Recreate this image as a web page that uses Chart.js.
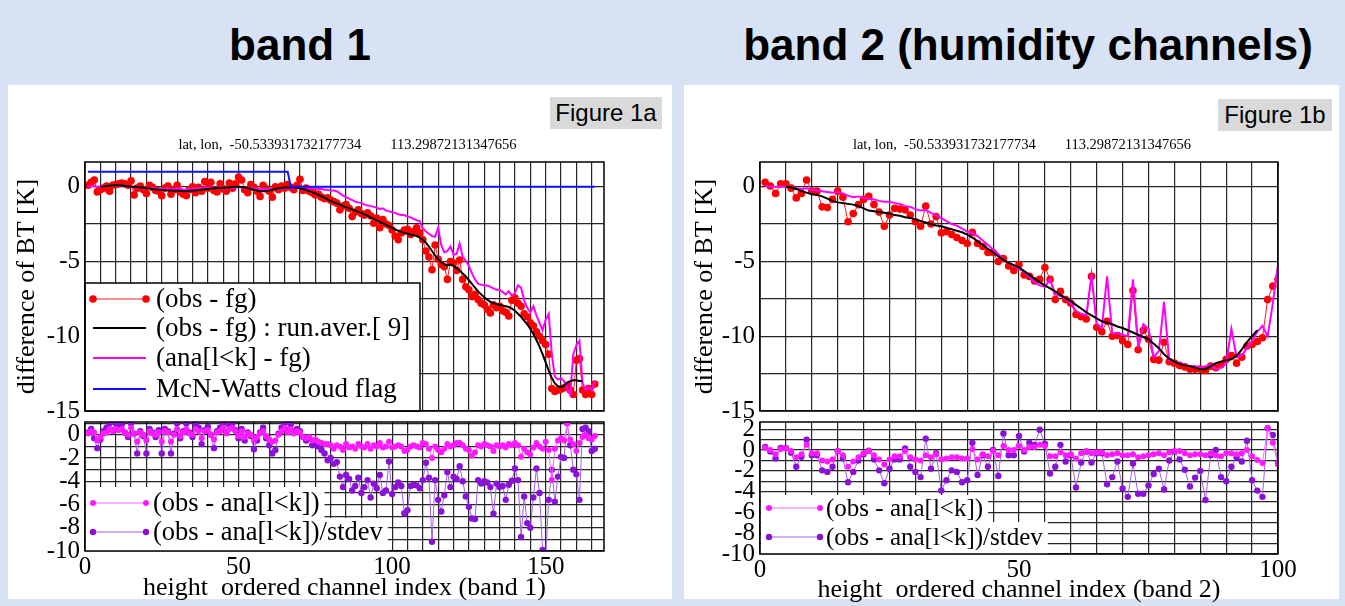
<!DOCTYPE html>
<html>
<head>
<meta charset="utf-8">
<script src="https://cdn.jsdelivr.net/npm/chart.js@4.4.1/dist/chart.umd.min.js"></script>
<style>
body { margin: 0; width: 1345px; height: 606px; background: #d7e3f4; position: relative; overflow: hidden; font-family: "Liberation Sans", Arial, sans-serif; }
.panel { position: absolute; background: #fff; }
.head { position: absolute; top: 20px; font-weight: bold; font-size: 44px; line-height: 50px; text-align: center; color: #000; }
.fig { position: absolute; background: #d9d9d9; font-size: 24px; line-height: 32px; height: 32px; text-align: center; color: #000; }
canvas { position: absolute; }
</style>
</head>
<body>
<div class="panel" style="left:8px;top:85px;width:664px;height:514px"></div>
<div class="panel" style="left:684px;top:85px;width:655px;height:514px"></div>
<div class="head" style="left:100px;width:400px">band 1</div>
<div class="head" style="left:718px;width:620px">band 2 (humidity channels)</div>
<div class="fig" style="left:550px;top:97px;width:112px">Figure 1a</div>
<div class="fig" style="left:1218px;top:99px;width:114px">Figure 1b</div>
<canvas id="top1"></canvas>
<canvas id="bot1"></canvas>
<canvas id="top2"></canvas>
<canvas id="bot2"></canvas>
<script>
// band 1 : height ordered channels 1..166
const channels1 = Array.from({length: 166}, (_, i) => i + 1);
const runChannels1 = channels1.slice(4, 162);
const obsFg1 = [
  0.1, 0.3, 0.45, -0.35, -0.2, -0.1, 0.05, -0.3, 0.1, 0.15,
  0.2, 0.25, 0.2, 0.1, 0.4, -0.55, -0.1, 0.05, -0.2, -0.45,
  0.1, -0.05, -0.25, -0.3, -0.6, -0.1, 0.05, -0.5, -0.2, 0.1,
  -0.35, -0.5, -0.6, -0.2, 0.0, -0.4, -0.05, -0.3, 0.35, -0.1,
  0.3, -0.25, -0.35, 0.2, -0.15, -0.3, 0.25, -0.1, 0.2, 0.65,
  0.45, -0.2, -0.4, 0.15, -0.05, -0.3, -0.65, 0.1, -0.15, -0.3,
  -0.7, 0.0, -0.2, 0.05, -0.1, 0.15, -0.05, -0.2, 0.1, 0.5,
  -0.25, -0.1, -0.3, -0.4, -0.55, -0.5, -0.7, -0.8, -0.75, -0.9,
  -1.0, -1.1, -1.55, -1.3, -1.2, -1.45, -2.0, -1.7, -1.55, -1.8,
  -1.9, -1.75, -1.95, -2.45, -2.1, -2.75, -2.2, -2.5, -2.6, -2.9,
  -3.3, -3.55, -3.1, -2.9, -2.85, -3.2, -3.0, -2.75, -3.1, -3.55,
  -4.3, -4.7, -5.55, -3.9, -4.85, -5.2, -5.35, -6.2, -5.0, -5.1,
  -5.6, -4.9, -6.2, -6.7, -6.9, -7.35, -7.2, -7.55, -7.8, -7.9,
  -8.2, -8.45, -7.9, -8.1, -8.0, -8.3, -8.4, -8.65, -7.6, -7.45,
  -7.8, -8.0, -8.5, -8.7, -9.1, -9.3, -9.7, -10.0, -10.3, -10.55,
  -11.2, -13.5, -13.7, -13.6, -13.55, -13.45, -13.3, -13.6, -13.9, -11.6,
  -11.5, -13.6, -13.9, -13.5, -13.9, -13.2
];
// 9 channel running average, channels 5..162
const runAver1 = [
  0.0, 0.02, 0.05, 0.08, 0.1, 0.12, 0.1, 0.08, 0.05, 0.03,
  0.0, 0.0, -0.02, -0.05, -0.05, -0.1, -0.12, -0.15, -0.18, -0.2,
  -0.22, -0.22, -0.25, -0.25, -0.27, -0.28, -0.28, -0.3, -0.3, -0.28,
  -0.26, -0.25, -0.22, -0.2, -0.18, -0.15, -0.12, -0.1, -0.1, -0.1,
  -0.08, -0.05, -0.05, -0.02, 0.0, 0.0, -0.02, -0.05, -0.1, -0.15,
  -0.2, -0.25, -0.3, -0.3, -0.28, -0.25, -0.2, -0.15, -0.1, -0.08,
  -0.05, -0.05, -0.05, -0.05, -0.08, -0.1, -0.15, -0.22, -0.3, -0.38,
  -0.45, -0.55, -0.65, -0.75, -0.85, -0.95, -1.05, -1.12, -1.2, -1.3,
  -1.38, -1.45, -1.52, -1.6, -1.68, -1.75, -1.85, -1.95, -2.05, -2.15,
  -2.25, -2.35, -2.45, -2.55, -2.65, -2.75, -2.85, -2.95, -3.02, -3.1,
  -3.15, -3.2, -3.25, -3.3, -3.4, -3.55, -3.75, -4.0, -4.3, -4.6,
  -4.85, -5.05, -5.2, -5.25, -5.2, -5.3, -5.45, -5.6, -5.8, -6.0,
  -6.25, -6.5, -6.75, -7.0, -7.2, -7.4, -7.55, -7.7, -7.8, -7.85,
  -7.9, -7.95, -8.0, -8.05, -8.15, -8.3, -8.5, -8.7, -8.95, -9.2,
  -9.5, -9.85, -10.25, -10.7, -11.2, -11.75, -12.3, -12.8, -13.15, -13.35,
  -13.4, -13.3, -13.1, -13.0, -12.95, -12.95, -13.0, -13.0
];
const anaFg1 = [
  0.0, 0.05, 0.05, 0.0, 0.0, 0.05, 0.05, 0.1, 0.1, 0.1,
  0.1, 0.1, 0.05, 0.05, 0.0, -0.05, -0.05, -0.05, -0.1, -0.1,
  -0.1, -0.1, -0.1, -0.15, -0.15, -0.15, -0.1, -0.15, -0.15, -0.1,
  -0.15, -0.2, -0.2, -0.15, -0.1, -0.15, -0.1, -0.1, -0.05, -0.1,
  -0.05, -0.1, -0.15, -0.1, -0.1, -0.1, -0.05, -0.1, -0.05, 0.0,
  -0.05, -0.1, -0.15, -0.1, -0.1, -0.15, -0.2, -0.15, -0.15, -0.15,
  -0.2, -0.15, -0.15, -0.1, -0.1, -0.1, -0.1, -0.1, -0.05, 0.0,
  -0.05, -0.05, -0.1, -0.1, -0.1, -0.15, -0.15, -0.2, -0.2, -0.25,
  -0.25, -0.3, -0.45, -0.6, -0.7, -0.8, -0.9, -1.0, -1.05, -1.1,
  -1.2, -1.25, -1.3, -1.35, -1.4, -1.5, -1.45, -1.6, -1.65, -1.7,
  -1.75, -1.85, -1.9, -1.9, -2.0, -2.05, -2.15, -2.25, -2.3, -2.8,
  -3.0, -3.15, -3.3, -3.35, -2.75, -3.9, -4.4, -4.3, -4.0, -4.55,
  -4.5, -3.8, -4.7, -4.95, -5.3, -5.8, -6.2, -6.5, -6.55, -6.6,
  -6.6, -6.7, -6.8, -6.9, -6.9, -7.05, -7.2, -7.0, -7.3, -7.1,
  -6.6, -6.75, -7.6, -8.1, -8.4, -8.0, -8.6, -9.1, -9.6, -8.9,
  -8.5, -11.2, -12.7, -12.9, -12.8, -13.0, -13.5, -13.9, -11.2, -10.6,
  -10.3, -13.1, -13.6, -13.4, -13.6, -13.0
];
const cloudFlagX1 = [1, 66, 67, 166];
const cloudFlag1 = [1, 1, 0, 0];
const obsAna1 = [
  0.1, 0.3, 0.2, -0.5, -0.2, 0.1, 0.2, 0.5, 0.3, 0.5,
  0.4, 0.5, 0.2, 0.0, 0.6, 0.1, -0.6, 0.2, 0.0, -0.5,
  0.3, 0.1, 0.0, 0.2, -0.6, 0.3, 0.2, -0.6, 0.0, 0.5,
  -0.1, 0.2, 0.5, 0.1, 0.0, 0.5, 0.3, -0.3, 0.3, 0.4,
  0.0, -0.4, 0.2, 0.3, 0.6, 0.1, 0.5, 0.6, 0.3, -0.1,
  0.3, -0.2, 0.1, 0.0, -0.5, -0.2, 0.1, 0.3, -0.1, -0.4,
  -0.6, -0.5, 0.0, 0.3, 0.6, 0.2, 0.5, 0.1, 0.3, 0.2,
  -0.2, -0.3, -0.2, -0.5, -0.4, -0.6, -0.7, -0.8, -0.8, -0.9,
  -1.2, -0.9, -1.0, -1.3, -0.8, -1.1, -1.0, -1.2, -0.8, -1.0,
  -1.1, -0.8, -1.2, -0.9, -1.0, -0.7, -1.1, -1.0, -0.6, -1.1,
  -1.0, -0.9, -1.0, -1.4, -1.3, -1.0, -0.9, -1.0, -1.1, -0.7,
  -0.8, -1.2, -2.0, -1.0, -1.3, -1.5, -1.2, -0.8, -1.0, -0.9,
  -0.7, -0.7, -0.9, -1.2, -1.3, -1.8, -1.5, -0.9, -1.0, -0.8,
  -0.9, -1.0, -1.4, -0.9, -1.0, -0.9, -1.1, -0.8, -0.9, -0.7,
  -0.9, -1.9, -1.2, -1.5, -1.7, -1.1, -0.7, -1.0, -1.2, -0.6,
  -1.3, -3.9, -1.2, -0.5, -0.3, -0.5, 1.0, -0.4, -0.8, -1.4,
  -0.7, -0.2, 0.0, -0.3, -0.4, -0.1
];
const obsAnaStd1 = [
  0.2, 0.5, -0.3, -1.15, -0.4, 0.3, 0.6, 1.0, 0.4, 1.0,
  0.6, 0.9, 0.2, -0.2, 1.0, 0.1, -1.6, 0.3, -0.1, -1.6,
  0.5, 0.2, -0.2, 0.4, -1.6, 0.5, 0.3, -1.6, 0.1, 1.0,
  -0.3, 0.3, 1.0, 0.2, -0.2, 0.9, 0.6, -0.8, 0.4, 0.7,
  0.0, -1.15, 0.3, 0.6, 1.0, 0.2, 0.8, 1.0, 0.4, -0.3,
  0.5, -0.5, 0.2, -0.1, -1.25, -0.5, 0.2, 0.6, -0.3, -0.9,
  -1.6, -1.3, 0.1, 0.6, 1.0, 0.4, 0.9, 0.2, 0.5, 0.3,
  -0.2, -0.5, -0.3, -0.9, -0.6, -1.0, -1.3, -1.6, -2.2, -2.0,
  -2.5, -2.35, -3.6, -4.5, -3.45, -3.8, -4.8, -4.4, -3.7, -5.0,
  -4.5, -3.9, -5.4, -4.2, -4.6, -3.45, -5.0, -4.8, -2.3, -5.1,
  -4.5, -4.1, -4.4, -6.75, -6.5, -4.4, -4.3, -4.35, -4.6, -3.9,
  -2.4, -3.7, -9.2, -3.9, -5.6, -6.6, -5.2, -3.2, -4.5, -3.6,
  -3.8, -2.7, -4.0, -5.3, -6.2, -7.2, -7.25, -3.9, -4.2, -4.0,
  -4.1, -4.5, -6.8, -4.2, -4.5, -4.4, -5.6, -4.3, -3.95, -2.9,
  -3.9, -8.8, -5.3, -7.6, -8.0, -5.4, -2.9, -5.0, -9.9, -10.5,
  -5.6, -3.0, -5.75, -3.6, -1.9, -2.0, 1.0, -0.9, -3.0, -3.4,
  -5.6, 0.5, 0.6, 0.3, -1.4, -1.2
];

// band 2 : height ordered channels 1..100
const channels2 = Array.from({length: 100}, (_, i) => i + 1);
const runChannels2 = channels2.slice(4, 96);
const obsFg2 = [
  0.3, 0.05, -0.45, 0.2, 0.2, -0.1, -0.75, -0.45, 0.45, -0.3,
  -0.3, -1.35, -1.4, -0.85, -0.3, -0.7, -2.35, -1.8, -1.2, -0.85,
  -0.65, -1.2, -1.7, -2.65, -1.9, -1.45, -1.5, -1.55, -1.9, -2.35,
  -2.65, -1.3, -2.5, -2.0, -3.1, -3.0, -3.2, -3.4, -3.6, -3.8,
  -3.05, -3.8, -4.0, -4.4, -4.4, -5.0, -4.8, -5.3, -5.6, -5.2,
  -5.9, -6.0, -6.3, -6.2, -5.4, -6.2, -7.55, -7.0, -7.55, -7.8,
  -8.55, -8.7, -8.85, -6.0, -9.4, -9.7, -9.0, -10.0, -9.95, -10.3,
  -10.55, -6.95, -10.9, -9.6, -10.2, -11.55, -11.6, -10.4, -11.7, -11.8,
  -11.95, -12.05, -12.2, -12.2, -12.2, -12.3, -12.0, -12.1, -11.9, -11.55,
  -11.3, -11.8, -11.4, -10.65, -10.55, -10.35, -10.1, -7.55, -6.65, -6.2
];
// 9 channel running average, channels 5..96
const runAver2 = [
  0.0, -0.05, -0.15, -0.3, -0.4, -0.5, -0.55, -0.65, -0.8, -0.95,
  -1.05, -1.1, -1.15, -1.2, -1.3, -1.45, -1.6, -1.65, -1.7, -1.75,
  -1.8, -1.9, -1.95, -2.05, -2.1, -2.2, -2.3, -2.4, -2.5, -2.6,
  -2.65, -2.75, -2.85, -2.95, -3.05, -3.2, -3.4, -3.65, -3.9, -4.15,
  -4.4, -4.65, -4.9, -5.1, -5.25, -5.4, -5.65, -5.9, -6.15, -6.4,
  -6.6, -6.8, -7.0, -7.25, -7.45, -7.65, -7.9, -8.15, -8.4, -8.6,
  -8.8, -9.0, -9.1, -9.2, -9.35, -9.45, -9.6, -9.75, -9.9, -10.05,
  -10.2, -10.5, -10.8, -11.2, -11.5, -11.7, -11.85, -11.95, -12.0, -12.1,
  -12.2, -12.2, -12.0, -11.8, -11.7, -11.6, -11.55, -11.3, -10.9, -10.4,
  -10.0, -9.6
];
const anaFg2 = [
  0.05, 0.0, 0.0, 0.0, 0.0, -0.05, -0.1, -0.15, -0.1, -0.2,
  -0.25, -0.3, -0.35, -0.4, -0.35, -0.45, -0.6, -0.7, -0.65, -0.75,
  -0.8, -0.85, -0.95, -1.0, -1.0, -1.1, -1.15, -1.3, -1.35, -1.5,
  -1.6, -1.55, -1.75, -1.9, -2.1, -2.3, -2.5, -2.6, -2.8, -3.0,
  -3.1, -3.3, -3.6, -3.9, -4.2, -4.5, -4.9, -5.1, -5.3, -5.5,
  -5.7, -6.0, -6.4, -6.6, -6.7, -6.2, -7.2, -7.3, -7.5, -7.8,
  -8.3, -8.5, -8.6, -5.9, -9.2, -9.4, -6.0, -9.8, -9.8, -9.9,
  -10.0, -6.2, -10.6, -9.2, -9.5, -11.4, -11.0, -7.7, -11.6, -11.7,
  -11.8, -11.9, -12.0, -12.0, -12.1, -12.0, -11.9, -12.2, -12.1, -11.8,
  -9.5, -11.4, -11.3, -10.8, -10.3, -9.7, -9.3, -10.0, -7.8, -5.2
];
const obsAna2 = [
  0.2, 0.0, -0.4, 0.1, 0.2, -0.1, -0.7, -0.4, 0.5, -0.3,
  -0.3, -1.0, -1.1, -0.9, -0.1, -0.5, -1.6, -1.1, -0.7, -0.3,
  -0.1, -0.5, -0.9, -1.4, -0.9, -0.6, -0.6, -0.1, -0.7, -0.9,
  -1.0, -0.5, -0.7, -0.4, -0.9, -0.8, -0.7, -0.7, -0.8, -0.8,
  0.1, -0.9, -0.4, -0.6, -0.1, -0.5, 0.4, 0.0, 0.0, 0.4,
  0.0, 0.3, 0.3, 0.5, 0.4, -0.6, -0.6, -0.2, -0.5, -0.4,
  -0.8, -0.3, -0.1, -0.3, -0.2, -0.2, -0.5, -0.4, -0.3, -0.5,
  -0.5, -0.4, -0.7, -0.6, -0.5, -0.4, -0.3, -0.5, -0.2, -0.1,
  -0.1, -0.3, -0.5, -0.4, -0.4, -0.5, -0.3, -0.5, -0.6, -0.3,
  -0.3, -0.4, -0.3, 0.0, -0.6, -0.95, -1.25, 2.1, 0.7, -1.4
];
const obsAnaStd2 = [
  0.3, -0.15, -0.8, 0.2, 0.2, -0.25, -1.6, -0.65, 1.0, -0.5,
  -0.5, -1.95, -2.1, -1.6, -0.1, -0.8, -3.1, -2.1, -1.0, -0.4,
  -0.05, -0.9, -1.95, -3.2, -1.8, -0.9, -0.9, 0.15, -1.6, -2.1,
  -2.6, 1.1, -1.8, -0.3, -3.9, -2.9, -1.95, -2.1, -3.1, -2.9,
  0.7, -2.4, -0.5, -1.6, 0.0, -2.5, 1.6, -0.5, -0.5, 1.35,
  -0.15, 0.7, 0.5, 1.95, 0.6, -2.25, -1.6, 0.5, -1.1, -0.5,
  -3.6, -1.2, -0.15, -1.2, -0.3, -0.3, -3.3, -2.6, -1.1, -3.7,
  -4.5, -1.3, -4.2, -4.2, -3.4, -2.3, -1.8, -3.8, -1.0, -0.15,
  -0.9, -1.9, -3.5, -2.65, -2.0, -4.8, -0.5, 0.0, -2.6, -3.0,
  -1.6, -0.7, -1.1, 0.9, -2.9, -3.9, -4.5, 2.1, 1.45, -1.3
];

// axes: grid positions and labelled ticks
const gridX1 = Array.from({length: 34}, (_, i) => i * 5);
const gridX2 = Array.from({length: 21}, (_, i) => i * 5);
const labelsX1 = [0, 50, 100, 150];
const labelsX2 = [0, 50, 100];
const gridTop = [-15, -12.5, -10, -7.5, -5, -2.5, 0];
const labelsTop = [0, -5, -10, -15];
const gridBot1 = [-10, -9, -8, -7, -6, -5, -4, -3, -2, -1, 0, 1];
const labelsBot1 = [0, -2, -4, -6, -8, -10];
const gridBot2 = [-10, -9, -8, -7, -6, -5, -4, -3, -2, -1, 0, 1, 2];
const labelsBot2 = [2, 0, -2, -4, -6, -8, -10];

const latLon = 'lat, lon,  -50.533931732177734        113.29872131347656';
const SERIF = '"Liberation Serif", "Times New Roman", serif';
const GRID = 'rgba(0,0,0,0.85)';
const AXIS_W = 85, PAD_R = 30;

function xy(xs, ys) {
  return ys.map((y, i) => ({x: xs[i], y: y}));
}

// plot frame, lat/lon line and legend drawn on top of the data
const framePlugin = {
  id: 'frame',
  afterDatasetsDraw(chart, args, o) {
    const ctx = chart.ctx, a = chart.chartArea, ds = chart.data.datasets;
    ctx.save();
    if (o.rows) {
      ctx.font = o.font;
      ctx.textBaseline = 'middle';
      ctx.textAlign = 'left';
      if (o.box) {
        ctx.fillStyle = '#fff';
        ctx.fillRect(a.left, a.bottom - o.box[1], o.box[0], o.box[1]);
        ctx.strokeStyle = '#000';
        ctx.lineWidth = 1.5;
        ctx.strokeRect(a.left, a.bottom - o.box[1], o.box[0], o.box[1]);
      }
      o.rows.forEach((r, i) => {
        const d = ds[i];
        const y = a.bottom - r;
        if (o.bands) {
          const tw = ctx.measureText(d.label).width;
          ctx.fillStyle = '#fff';
          ctx.fillRect(a.left + 1, a.bottom - o.bands[i][0], o.textAt + tw + 4, o.bands[i][0] - o.bands[i][1]);
        }
        ctx.strokeStyle = d.borderColor;
        ctx.lineWidth = d.borderWidth;
        ctx.beginPath();
        ctx.moveTo(a.left + o.lineFrom, y);
        ctx.lineTo(a.left + o.lineTo, y);
        ctx.stroke();
        if (d.pointRadius) {
          ctx.fillStyle = d.pointBackgroundColor;
          [o.lineFrom, o.lineTo].forEach(px => {
            ctx.beginPath();
            ctx.arc(a.left + px, y, d.pointRadius, 0, Math.PI * 2);
            ctx.fill();
          });
        }
        ctx.fillStyle = '#000';
        ctx.fillText(d.label, a.left + o.textAt, y + 1);
      });
    }
    ctx.strokeStyle = '#000';
    ctx.lineWidth = 1.5;
    ctx.strokeRect(a.left, a.top, a.right - a.left, a.bottom - a.top);
    if (o.note) {
      ctx.font = '14.5px ' + SERIF;
      ctx.fillStyle = '#000';
      ctx.textAlign = 'center';
      ctx.textBaseline = 'middle';
      ctx.fillText(o.note, (a.left + a.right) / 2 + 3, a.top - 17);
    }
    ctx.restore();
  }
};

function drawPlot(id, p, datasets) {
  const canvas = document.getElementById(id);
  const padTop = p.xTitle ? 20 : 30;
  const below = p.xTitle ? p.bottomHeight : 24;
  canvas.width = p.r - p.l + AXIS_W + PAD_R;
  canvas.height = p.b - p.t + padTop + below;
  canvas.style.left = (p.l - AXIS_W) + 'px';
  canvas.style.top = (p.t - padTop) + 'px';

  new Chart(canvas, {
    type: 'line',
    data: { datasets: datasets },
    plugins: [framePlugin],
    options: {
      responsive: false,
      animation: false,
      layout: { padding: { left: 0, top: padTop, right: PAD_R, bottom: p.xTitle ? 0 : below } },
      plugins: { legend: { display: false }, tooltip: { enabled: false }, frame: p.frame },
      elements: { line: { tension: 0 } },
      scales: {
        x: {
          type: 'linear', min: 0, max: p.xMax,
          afterBuildTicks: s => { s.ticks = p.xGrid.map(v => ({value: v})); },
          afterFit: s => { s.height = p.xTitle ? p.bottomHeight : 0; },
          grid: { color: GRID, lineWidth: 1.2, drawTicks: false },
          border: { display: false },
          ticks: {
            display: !!p.xTitle, autoSkip: false, maxRotation: 0, padding: 1, color: '#000',
            font: { family: SERIF, size: 25 },
            callback: v => p.xLabels.includes(v) ? String(v) : ''
          },
          title: p.xTitle ? {
            display: true, text: p.xTitle, color: '#000',
            font: { family: SERIF, size: 26 }, padding: { top: 0, bottom: p.xTitlePad }
          } : { display: false }
        },
        y: {
          min: p.yMin, max: p.yMax,
          afterBuildTicks: s => { s.ticks = p.yGrid.map(v => ({value: v})); },
          afterFit: s => { s.width = AXIS_W; },
          grid: { color: GRID, lineWidth: 1.2, drawTicks: false },
          border: { display: false },
          ticks: {
            autoSkip: false, padding: 5, color: '#000',
            font: { family: SERIF, size: 25 },
            callback: v => p.yLabels.includes(v) ? String(v) : ''
          },
          title: p.yTitle ? {
            display: true, text: p.yTitle, color: '#000',
            font: { family: SERIF, size: 26 }, padding: { top: p.yTitlePad, bottom: 0 }
          } : { display: false }
        }
      }
    }
  });
}

function topSeries(ch, obs, runCh, run, ana) {
  return [
    { label: '(obs - fg)', data: xy(ch, obs), borderColor: '#ff1a1a', borderWidth: 1,
      pointRadius: 3.8, pointBackgroundColor: '#ff0000', pointBorderWidth: 0, order: 4 },
    { label: '(obs - fg) : run.aver.[ 9]', data: xy(runCh, run), borderColor: '#000000',
      borderWidth: 2, pointRadius: 0, order: 2 },
    { label: '(ana[l<k] - fg)', data: xy(ch, ana), borderColor: '#ff00ff',
      borderWidth: 2, pointRadius: 0, order: 3 }
  ];
}

function bottomSeries(ch, diff, scaled) {
  return [
    { label: '(obs - ana[l<k])', data: xy(ch, diff), borderColor: '#ff66ff', borderWidth: 1,
      pointRadius: 3, pointBackgroundColor: '#ff1aff', pointBorderWidth: 0, order: 1 },
    { label: '(obs - ana[l<k])/stdev', data: xy(ch, scaled), borderColor: '#a35ee6', borderWidth: 1,
      pointRadius: 3.2, pointBackgroundColor: '#8a12d6', pointBorderWidth: 0, order: 2 }
  ];
}

// band 1
const top1 = topSeries(channels1, obsFg1, runChannels1, runAver1, anaFg1);
top1.push({ label: 'McN-Watts cloud flag', data: xy(cloudFlagX1, cloudFlag1), borderColor: '#1010ff',
  borderWidth: 2, pointRadius: 0, order: 1 });
drawPlot('top1', {
  l: 85, r: 604, t: 162, b: 411, xMax: 169, yMin: -15, yMax: 1.65,
  xGrid: gridX1, xLabels: labelsX1, yGrid: gridTop, yLabels: labelsTop,
  yTitle: 'difference of BT [K]', yTitlePad: 12,
  frame: { note: latLon, box: [335, 128], rows: [112, 83, 53, 22], lineFrom: 8, lineTo: 61, textAt: 71,
           font: '27px ' + SERIF }
}, top1);
drawPlot('bot1', {
  l: 85, r: 604, t: 422, b: 551, xMax: 169, yMin: -10, yMax: 1.1,
  xGrid: gridX1, xLabels: labelsX1, yGrid: gridBot1, yLabels: labelsBot1,
  xTitle: 'height  ordered channel index (band 1)', xTitlePad: 2, bottomHeight: 55,
  frame: { rows: [48, 19], bands: [[64, 33], [33, 0]], lineFrom: 8, lineTo: 61, textAt: 68,
           font: '26.5px ' + SERIF }
}, bottomSeries(channels1, obsAna1, obsAnaStd1));

// band 2
drawPlot('top2', {
  l: 760, r: 1278, t: 162, b: 411, xMax: 100, yMin: -15, yMax: 1.65,
  xGrid: gridX2, xLabels: labelsX2, yGrid: gridTop, yLabels: labelsTop,
  yTitle: 'difference of BT [K]', yTitlePad: 15,
  frame: { note: latLon }
}, topSeries(channels2, obsFg2, runChannels2, runAver2, anaFg2));
drawPlot('bot2', {
  l: 760, r: 1278, t: 422, b: 554, xMax: 100, yMin: -10, yMax: 2.7,
  xGrid: gridX2, xLabels: labelsX2, yGrid: gridBot2, yLabels: labelsBot2,
  xTitle: 'height  ordered channel index (band 2)', xTitlePad: 0, bottomHeight: 52,
  frame: { rows: [46, 17], bands: [[59, 32], [32, 0]], lineFrom: 9, lineTo: 60, textAt: 66,
           font: '25px ' + SERIF }
}, bottomSeries(channels2, obsAna2, obsAnaStd2));
</script>
</body>
</html>
